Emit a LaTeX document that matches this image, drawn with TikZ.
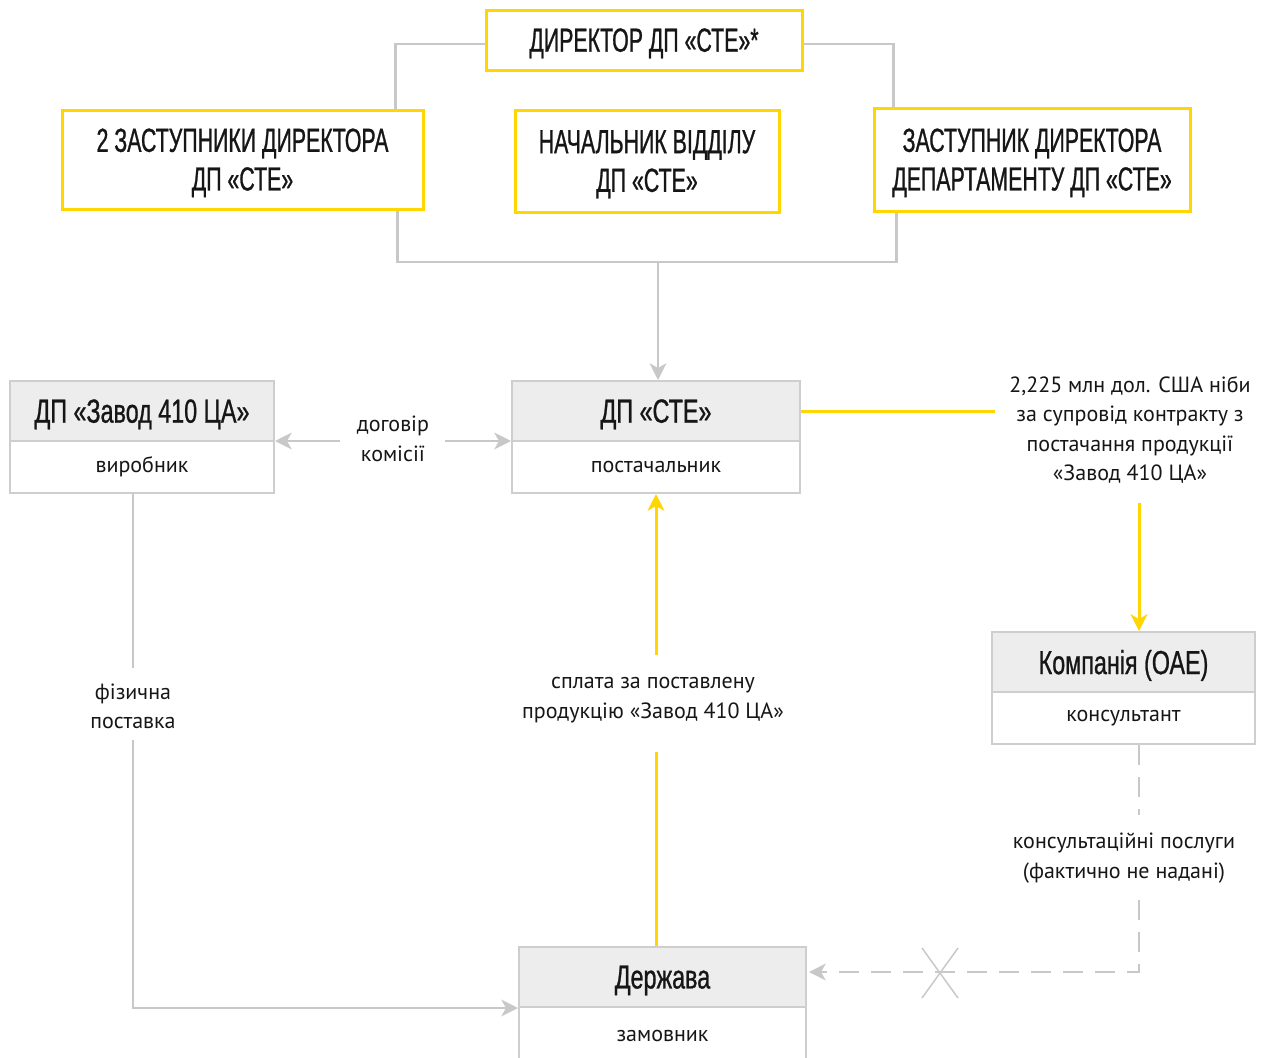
\documentclass[tikz,border=0pt]{standalone}
\usepackage{fontspec}
\setmainfont{PT Sans}
\newfontfamily\hfont[FakeStretch=0.64,FakeBold=0.8]{Liberation Sans}
\newfontfamily\efont[FakeStretch=0.7,FakeBold=0.8]{Liberation Sans}
\usetikzlibrary{arrows.meta,calc}
\definecolor{ylw}{RGB}{255,214,0}
\definecolor{gln}{RGB}{200,200,200}
\definecolor{gbd}{RGB}{206,206,206}
\definecolor{ghd}{RGB}{237,237,237}
\definecolor{txt}{RGB}{22,22,22}
\tikzset{
  wh/.style 2 args={minimum width=#1*0.75pt, minimum height=#2*0.75pt},
  ybox/.style={draw=ylw, line width=2.25pt, fill=white, text=txt, align=center, inner sep=0pt,
    text depth=0pt, font=\hfont\fontsize{25}{29}\selectfont},
  hdr/.style={draw=gbd, line width=1.5pt, fill=ghd, text=txt, inner sep=0pt,
    text depth=0pt, font=\efont\fontsize{25}{29}\selectfont},
  bdy/.style={draw=gbd, line width=1.5pt, fill=white, text=txt, inner sep=0pt,
    font=\fontsize{16.5}{22}\selectfont},
  lbl/.style={text=txt, align=center, inner sep=0pt, font=\fontsize{16.5}{22}\selectfont},
  gline/.style={draw=gln, line width=2pt},
  tip/.style={-{Stealth[length=12.5pt,width=12.5pt,inset=3.5pt]}},
  garrow/.style={gline, tip},
  yline/.style={draw=ylw, line width=2.25pt},
  yarrow/.style={yline, tip},
  dline/.style={gline, dash pattern=on 15pt off 9pt},
}
\begin{document}
\begin{tikzpicture}[x=0.75pt,y=-0.75pt]
\useasboundingbox[fill=white] (0,0) rectangle (1263,1057);

% management connectors behind the boxes
\coordinate (bar) at (658,262);
\node[ybox, wh={316}{60}] (dir) at (644,40) {ДИРЕКТОР ДП «СТЕ»*};
\node[ybox, wh={361}{99}] (dep) at (242.5,159.5) {2 ЗАСТУПНИКИ ДИРЕКТОРА\\ДП «СТЕ»};
\node[ybox, wh={264}{102}] (head) at (647,161) {НАЧАЛЬНИК ВІДДІЛУ\\ДП «СТЕ»};
\node[ybox, wh={316}{103}] (zam) at (1032,159.5) {ЗАСТУПНИК ДИРЕКТОРА\\ДЕПАРТАМЕНТУ ДП «СТЕ»};

% entity boxes
\node[bdy, wh={264}{52}] (zb) at (142,467) {виробник};
\node[hdr, wh={264}{60}] (zh) at (142,411) {ДП «Завод 410 ЦА»};
\node[bdy, wh={288}{52}] (sb) at (656,467) {постачальник};
\node[hdr, wh={288}{60}] (sh) at (656,411) {ДП «СТЕ»};
\node[bdy, wh={263}{52}] (kb) at (1123.5,718) {консультант};
\node[hdr, wh={263}{60}] (kh) at (1123.5,662) {Компанія (ОАЕ)};
\node[bdy, wh={287}{58}] (db) at (662.5,1036) {замовник};
\node[hdr, wh={287}{60}] (dh) at (662.5,977) {Держава};

% labels
\node[lbl] (dog) at (393,439) {договір\\комісії};
\node[lbl] (pay) at (1130,430) {2,225 млн дол. США ніби\\за супровід контракту з\\постачання продукції\\«Завод 410 ЦА»};
\node[lbl] (fiz) at (133,706) {фізична\\поставка};
\node[lbl] (spl) at (653,700) {сплата за поставлену\\продукцію «Завод 410 ЦА»};
\node[lbl] (kon) at (1124,858) {консультаційні послуги\\(фактично не надані)};

% gap ends of the labelled connectors
\coordinate (dogL) at (340,441);
\coordinate (dogR) at (445,441);
\coordinate (payW) at (995,411);
\coordinate (payS) at (1139,503);
\coordinate (fizT) at (133,668);
\coordinate (fizB) at (133,740);
\coordinate (splT) at (656,655);
\coordinate (splB) at (656,752);
\coordinate (konT) at (1139,815);
\coordinate (konB) at (1139,900);

% management connectors
\draw[gline] ($(dir.west)+(0,4)$) -| ($(dep.north east)+(-29,0)$);
\draw[gline] ($(dir.east)+(0,4)$) -| ($(zam.north west)+(21,0)$);
\draw[gline] ($(dep.south east)+(-27,0)$) |- (bar) -| ($(zam.south west)+(24,0)$);
\draw[garrow] (bar) -- (bar |- sh.north);

% contract of commission
\draw[garrow] (dogL) -- (dogL -| zh.east);
\draw[garrow] (dogR) -- (dogR -| sh.west);

% payment to company
\draw[yline] (sh.east |- payW) -- (payW);
\draw[yarrow] (payS) -- (payS |- kh.north);

% physical delivery
\draw[gline] (zb.south -| fizT) -- (fizT);
\draw[garrow] (fizB) |- (dh.south west);

% payment for products
\draw[yline] (dh.north -| splB) -- (splB);
\draw[yarrow] (splT) -- (sb.south -| splT);

% consulting services (not provided)
\draw[dline] (kb.south -| konT) -- (konT);
\draw[dline, tip] (konB) |- ($(dh.east)+(2,-5)$);
\draw[draw=gln, line width=1.1pt] (922,948) -- (958,998) (922,998) -- (958,948);
\end{tikzpicture}
\end{document}
